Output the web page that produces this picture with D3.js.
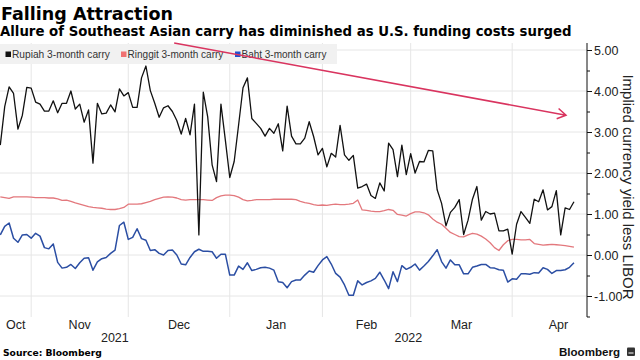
<!DOCTYPE html>
<html><head><meta charset="utf-8">
<script src="https://cdn.jsdelivr.net/npm/d3@7"></script>
<style>body{margin:0;background:#fff}svg{display:block;font-family:"Liberation Sans",Arial,sans-serif}.bt{font-family:"DejaVu Sans",Verdana,sans-serif;font-weight:bold}</style>
</head><body><svg id="c" width="640" height="360"></svg>
<script>
const startDate = "2021-10-21";
const endDate = "2022-04-21";
const seriesNames = ["Rupiah 3-month carry", "Ringgit 3-month carry", "Baht 3-month carry"];
const rupiah = [2.68,3.62,4.10,3.94,3.07,3.41,4.09,4.07,3.73,3.68,
3.51,3.51,3.76,3.47,3.70,3.70,4.00,3.56,3.68,3.24,
3.54,2.24,3.70,3.44,3.46,3.66,3.49,4.05,3.88,3.96,
3.60,3.60,4.32,4.61,4.01,3.70,3.36,3.59,3.64,3.50,
3.28,2.95,3.33,2.93,3.68,0.49,3.97,3.37,2.20,1.79,
3.68,2.80,1.89,2.28,3.17,4.08,4.32,3.33,3.21,3.09,
2.90,3.09,2.97,3.20,2.54,3.63,2.90,2.71,2.71,2.85,
3.25,2.89,2.44,2.60,2.15,2.48,2.39,3.16,2.44,2.31,
2.43,1.63,1.67,1.73,1.45,1.38,1.76,1.56,2.73,2.57,
1.91,2.68,1.96,2.47,2.00,2.28,2.27,2.55,2.54,1.59,
1.26,0.71,1.04,1.16,1.35,0.50,0.85,1.36,1.67,0.85,
1.06,1.00,1.02,0.59,0.59,0.63,0.02,0.75,1.06,0.92,
0.77,1.36,1.30,1.59,1.10,1.18,1.57,0.49,1.15,1.11,
1.30];
const ringgit = [1.42,1.40,1.38,1.42,1.42,1.42,1.42,1.41,1.40,1.40,
1.40,1.39,1.39,1.37,1.33,1.34,1.31,1.27,1.24,1.21,
1.18,1.16,1.15,1.14,1.12,1.11,1.11,1.13,1.16,1.24,
1.24,1.24,1.25,1.28,1.31,1.35,1.38,1.41,1.42,1.41,
1.39,1.35,1.34,1.35,1.35,1.35,1.35,1.34,1.33,1.40,
1.44,1.46,1.46,1.45,1.41,1.35,1.32,1.33,1.35,1.35,
1.35,1.35,1.36,1.36,1.36,1.36,1.36,1.35,1.31,1.28,
1.26,1.23,1.21,1.22,1.21,1.23,1.24,1.23,1.23,1.24,
1.26,1.34,1.10,1.09,1.07,1.06,1.06,1.08,1.11,1.09,
0.99,0.97,0.95,1.01,1.05,1.05,1.03,0.98,0.88,0.80,
0.75,0.65,0.55,0.50,0.45,0.44,0.49,0.53,0.51,0.46,
0.39,0.30,0.18,0.11,0.25,0.35,0.38,0.38,0.37,0.37,
0.38,0.28,0.26,0.24,0.25,0.26,0.25,0.24,0.23,0.21,
0.19];
const baht = [0.49,0.70,0.78,0.41,0.31,0.49,0.50,0.41,0.53,0.46,
0.18,0.15,0.27,-0.18,-0.32,-0.30,-0.23,-0.33,-0.19,-0.08,
-0.07,-0.37,-0.17,-0.09,-0.06,0.04,0.12,0.72,0.80,0.38,
0.43,0.64,0.40,0.36,0.11,0.13,0.04,0.00,0.11,0.12,
0.00,-0.22,-0.24,-0.06,0.08,0.14,0.09,0.09,0.08,-0.08,
0.02,0.02,-0.49,-0.49,-0.27,-0.35,-0.19,-0.38,-0.35,-0.31,
-0.30,-0.32,-0.37,-0.65,-0.67,-0.80,-0.65,-0.61,-0.61,-0.49,
-0.39,-0.42,-0.26,-0.12,-0.04,-0.22,-0.45,-0.54,-0.73,-0.98,
-0.98,-0.63,-0.73,-0.67,-0.63,-0.57,-0.42,-0.61,-0.82,-0.41,
-0.65,-0.26,-0.35,-0.30,-0.22,-0.37,-0.27,-0.16,-0.02,0.13,
-0.16,-0.32,-0.12,-0.24,-0.24,-0.46,-0.46,-0.30,-0.27,-0.23,
-0.23,-0.31,-0.32,-0.36,-0.37,-0.66,-0.58,-0.59,-0.46,-0.46,
-0.47,-0.43,-0.44,-0.31,-0.35,-0.45,-0.38,-0.38,-0.36,-0.30,
-0.19];
const yTicks = [-1, 0, 1, 2, 3, 4, 5];
const yMinorTicks = [-1.5, -0.5, 0.5, 1.5, 2.5, 3.5, 4.5];
const monthLabels = ["Oct", "Nov", "Dec", "Jan", "Feb", "Mar", "Apr"];
const yearLabels = ["2021", "2022"];
const trendFrom = [39.4, 5.17];   // [business-day index, value]
const trendTo = [128.2, 3.41];

const colors = ["#111111", "#e3787d", "#2b4ea3"];
const legendColors = ["#111111", "#f07272", "#1f4fd0"];

const parse = d3.timeParse("%Y-%m-%d");
const isWd = d => d.getDay() !== 0 && d.getDay() !== 6;
const t0 = parse(startDate);
const dates = d3.timeDay.range(t0, d3.timeDay.offset(parse(endDate), 1)).filter(isWd);
const bdIndex = date => d3.timeDay.range(t0, date).filter(isWd).length;

const svg = d3.select("#c");
const pL = 0, pR = 587, pT = 43, pB = 316.5;
const x = d3.scaleLinear().domain([0, 133]).range([0.3, 587.2]);
const y = d3.scaleLinear().domain([-1.5, 5]).range([pB, 50]);

// gridlines
const months = d3.timeMonth.range(new Date(2021, 9, 1), new Date(2022, 4, 2));
svg.append("g").selectAll("line").data(yTicks).join("line")
  .attr("x1", pL).attr("x2", pR).attr("y1", d => y(d)).attr("y2", d => y(d))
  .attr("stroke", "#e6e6e6").attr("stroke-width", 1);
svg.append("g").selectAll("line").data(months.slice(1, 7)).join("line")
  .attr("x1", d => x(bdIndex(d))).attr("x2", d => x(bdIndex(d)))
  .attr("y1", pT).attr("y2", 317)
  .attr("stroke", "#e6e6e6").attr("stroke-width", 1);

// month and year labels
const monthPos = months.slice(0, 7).map((m, i) => {
  const a = Math.max(pL, x(bdIndex(m)));
  const b = x(bdIndex(months[i + 1]));
  return (a + b) / 2;
});
svg.append("g").selectAll("text").data(monthLabels).join("text")
  .attr("x", (d, i) => monthPos[i]).attr("y", 329).attr("text-anchor", "middle")
  .attr("font-size", 12.5).attr("fill", "#222").text(d => d);
const jan = x(bdIndex(new Date(2022, 0, 1)));
const yearPos = [(pL + jan) / 2, (jan + pR) / 2];
svg.append("g").selectAll("text").data(yearLabels).join("text")
  .attr("x", (d, i) => yearPos[i]).attr("y", 342).attr("text-anchor", "middle")
  .attr("font-size", 12.5).attr("fill", "#222").text(d => d);

// lines
const line = d3.line().x((d, i) => x(i)).y(d => y(d));
const series = [ringgit, baht, rupiah];
const sColors = [colors[1], colors[2], colors[0]];
const sWidths = [1.3, 1.5, 1.3];
series.forEach((s, k) => {
  svg.append("path").datum(s).attr("d", line).attr("fill", "none")
    .attr("stroke", sColors[k]).attr("stroke-width", sWidths[k]).attr("stroke-linejoin", "round");
});

// right axis
svg.append("line").attr("x1", pR).attr("x2", pR).attr("y1", pT).attr("y2", 317).attr("stroke", "#111");
const ax = svg.append("g").attr("transform", `translate(${pR},0)`);
ax.call(d3.axisRight(y).tickValues(yTicks).tickSize(5).tickPadding(2).tickFormat(d => d.toFixed(2)));
ax.select(".domain").remove();
ax.selectAll("text").attr("font-size", 12.5).attr("fill", "#222").attr("font-family", "Liberation Sans, Arial, sans-serif");
ax.selectAll(".tick line").attr("stroke", "#111");
const minor = svg.append("g").attr("transform", `translate(${pR},0)`);
minor.call(d3.axisRight(y).tickValues(yMinorTicks).tickSize(3).tickFormat(""));
minor.select(".domain").remove();
minor.selectAll(".tick line").attr("stroke", "#111");

svg.append("text").attr("transform", "translate(623,187) rotate(90)")
  .attr("text-anchor", "middle").attr("font-size", 15).attr("fill", "#222")
  .text("Implied currency yield less LIBOR");

// legend
function fit(sel, target) {
  const fs = parseFloat(sel.attr("font-size"));
  const w = sel.node().getComputedTextLength();
  sel.attr("font-size", fs * target / w);
}
svg.append("rect").attr("x", 0).attr("y", 44).attr("width", 337).attr("height", 20)
  .attr("fill", "#f1f1f1");
const legX = [5.5, 121, 235];
const legW = [98, 96, 85];
seriesNames.forEach((n, i) => {
  svg.append("rect").attr("x", legX[i]).attr("y", 51.5).attr("width", 5.5).attr("height", 5.5).attr("fill", legendColors[i]);
  const t = svg.append("text").attr("x", legX[i] + 6.5).attr("y", 58).attr("font-size", 11).attr("fill", "#333").text(n);
  fit(t, legW[i]);
});

// trend arrow
const ax1 = x(trendFrom[0]), ay1 = y(trendFrom[1]), ax2 = x(trendTo[0]), ay2 = y(trendTo[1]);
const ang = Math.atan2(ay2 - ay1, ax2 - ax1);
const hl = 10, ha = 0.55;
svg.append("path")
  .attr("d", `M${ax1},${ay1}L${ax2},${ay2}M${ax2 - hl * Math.cos(ang - ha)},${ay2 - hl * Math.sin(ang - ha)}L${ax2},${ay2}L${ax2 - hl * Math.cos(ang + ha)},${ay2 - hl * Math.sin(ang + ha)}`)
  .attr("fill", "none").attr("stroke", "#d9345f").attr("stroke-width", 1.5).attr("stroke-linejoin", "miter");

// titles
const t1 = svg.append("text").attr("class", "bt").attr("x", 1).attr("y", 20).attr("font-size", 18).attr("fill", "#000").text("Falling Attraction");
fit(t1, 172);
const t2 = svg.append("text").attr("class", "bt").attr("x", 0).attr("y", 36).attr("font-size", 13.5).attr("fill", "#000").text("Allure of Southeast Asian carry has diminished as U.S. funding costs surged");
fit(t2, 572);
const t3 = svg.append("text").attr("class", "bt").attr("x", 3).attr("y", 356).attr("font-size", 10).attr("fill", "#000").text("Source: Bloomberg");
fit(t3, 99);
const t4 = svg.append("text").attr("x", 559).attr("y", 355.5).attr("font-size", 12).attr("font-weight", "bold").attr("fill", "#111").text("Bloomberg");
fit(t4, 61);
svg.append("rect").attr("x", 627).attr("y", 347.5).attr("width", 8).attr("height", 8.5).attr("rx", 1).attr("fill", "#333");
svg.append("rect").attr("x", 628.5).attr("y", 352.5).attr("width", 5).attr("height", 1).attr("fill", "#fff");
</script></body></html>
